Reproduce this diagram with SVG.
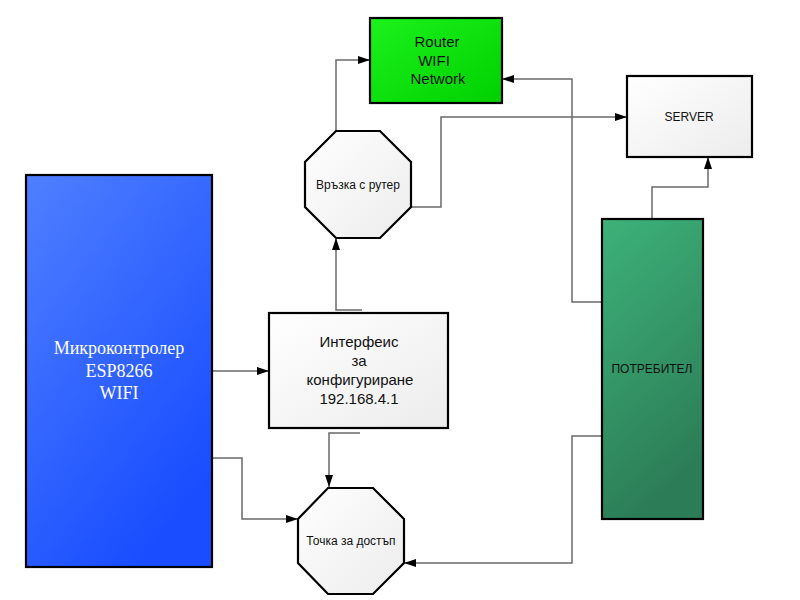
<svg xmlns="http://www.w3.org/2000/svg" width="800" height="600" viewBox="0 0 800 600">
<defs>
<linearGradient id="gGray" x1="0" y1="0" x2="1" y2="1"><stop offset="0" stop-color="#ffffff"/><stop offset="1" stop-color="#ececec"/></linearGradient>
<linearGradient id="gGreen" x1="0" y1="0" x2="1" y2="1"><stop offset="0" stop-color="#1cf21c"/><stop offset="1" stop-color="#00d000"/></linearGradient>
<linearGradient id="gBlue" x1="0" y1="0" x2="0.6" y2="1"><stop offset="0" stop-color="#4f7fff"/><stop offset="1" stop-color="#194dff"/></linearGradient>
<linearGradient id="gDark" x1="0" y1="0" x2="0.3" y2="1"><stop offset="0" stop-color="#3db279"/><stop offset="1" stop-color="#2c7d57"/></linearGradient>
<marker id="arr" viewBox="0 0 12 8" refX="12" refY="4" markerWidth="12" markerHeight="8" markerUnits="userSpaceOnUse" orient="auto"><path d="M0,0 L12,4 L0,8 Z" fill="#000"/></marker>
</defs>
<style>
.box{stroke:#000;stroke-width:2.2}
.t{font-family:"Liberation Sans",Arial,sans-serif;fill:#111;text-anchor:middle}
.ts{font-family:"Liberation Serif","Times New Roman",serif;fill:#fff;text-anchor:middle;font-size:18px}
.c{fill:none;stroke:#6a6a6a;stroke-width:1.5;marker-end:url(#arr)}
</style>
<rect width="800" height="600" fill="#fff"/>
<g id="connectors">
<path class="c" d="M336,131 V60 H370"/>
<path class="c" d="M411,207 H441 V117 H627"/>
<path class="c" d="M602,302 H572 V79 H502"/>
<path class="c" d="M652,219 V187 H708 V157"/>
<path class="c" d="M602,436 H572 V563 H404"/>
<path class="c" d="M212,371 H269"/>
<path class="c" d="M212,458 H242 V519 H298"/>
<path class="c" d="M362,310 H336 V238"/>
<path class="c" d="M360,433 H329 V487"/>
</g>
<g id="router">
<rect class="box" x="370" y="18" width="132" height="85" fill="url(#gGreen)"/>
<text class="t" font-size="15" x="437" y="47">Router</text>
<text class="t" font-size="15" x="434" y="66">WIFI</text>
<text class="t" font-size="15" x="438" y="84">Network</text>
</g>
<g id="server">
<rect class="box" x="627" y="76" width="125" height="81" fill="url(#gGray)"/>
<text class="t" font-size="12" x="689" y="121">SERVER</text>
</g>
<g id="vrazka">
<polygon class="box" points="336,131 380,131 411,162 411,207 380,238 336,238 305,207 305,162" fill="url(#gGray)"/>
<text class="t" font-size="12" x="358" y="189">Връзка с рутер</text>
</g>
<g id="micro">
<rect class="box" x="26" y="175" width="186" height="392" fill="url(#gBlue)"/>
<text class="ts" x="119" y="354">Микроконтролер</text>
<text class="ts" x="119" y="377">ESP8266</text>
<text class="ts" x="119" y="399">WIFI</text>
</g>
<g id="interface">
<rect class="box" x="269" y="313" width="179" height="115" fill="url(#gGray)"/>
<text class="t" font-size="15" x="359" y="347">Интерфеис</text>
<text class="t" font-size="15" x="359" y="366">за</text>
<text class="t" font-size="15" x="360" y="385">конфигуриране</text>
<text class="t" font-size="15" x="359" y="404">192.168.4.1</text>
</g>
<g id="tochka">
<polygon class="box" points="328,488 373,488 404,519 404,563 373,594 328,594 298,563 298,519" fill="url(#gGray)"/>
<text class="t" font-size="12" x="351" y="545">Точка за достъп</text>
</g>
<g id="potrebitel">
<rect class="box" x="602" y="219" width="101" height="300" fill="url(#gDark)"/>
<text class="t" font-size="12" x="652" y="373">ПОТРЕБИТЕЛ</text>
</g>
</svg>
